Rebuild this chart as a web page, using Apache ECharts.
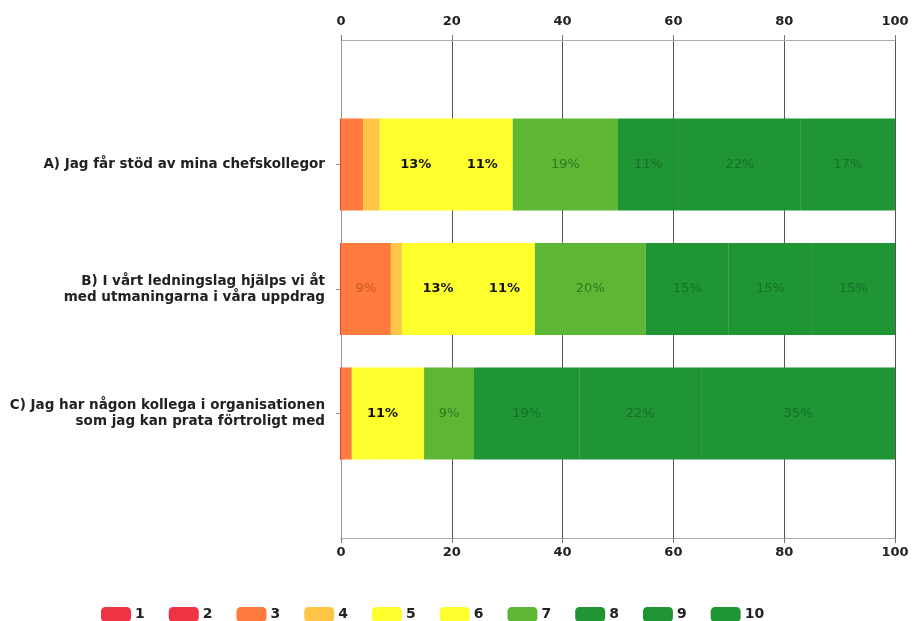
<!DOCTYPE html>
<html>
<head>
<meta charset="utf-8">
<script src="https://cdn.jsdelivr.net/npm/echarts@6/dist/echarts.min.js"></script>
<style>
  html, body { margin: 0; padding: 0; background: #fff; }
  #chart { width: 912px; height: 621px; }
</style>
</head>
<body>
<div id="chart"></div>
<script>
// frågor (tomma platser i början och slutet ger luft ovan/under staplarna)
var categories = [
    '',
    'A) Jag får stöd av mina chefskollegor',
    'B) I vårt ledningslag hjälps vi åt\nmed utmaningarna i våra uppdrag',
    'C) Jag har någon kollega i organisationen\nsom jag kan prata förtroligt med',
    ''
];
var scores = ['1', '2', '3', '4', '5', '6', '7', '8', '9', '10'];
var xTicks = [0, 20, 40, 60, 80, 100];

// andel svar (%) per betyg, för fråga A, B, C
var s1 = [0, 0, 0];
var s2 = [0, 0, 0];
var s3 = [4, 9, 2];
var s4 = [3, 2, 0];
var s5 = [13, 13, 11];
var s6 = [11, 11, 2];
var s7 = [19, 20, 9];
var s8 = [11, 15, 19];
var s9 = [22, 15, 22];
var s10 = [17, 15, 35];

var values = [s1, s2, s3, s4, s5, s6, s7, s8, s9, s10];

var colors = ['#ee3344', '#ee3344', '#ff7b3d', '#ffc546', '#ffff2e', '#ffff2e',
              '#5db735', '#1f9533', '#1f9533', '#1f9533'];
var labelColors = ['#9a1a22', '#9a1a22', '#c4561f', '#a07010', '#111', '#111',
                   '#2d7a22', '#16702a', '#16702a', '#16702a'];
var labelBold = [false, false, false, false, true, true, false, false, false, false];

var chart = echarts.init(document.getElementById('chart'));

var series = scores.map(function (name, i) {
    return {
        name: name,
        type: 'bar',
        stack: 'total',
        barWidth: 92,
        xAxisIndex: 0,
        // kant i samma färg så att inga skarvar syns mellan lika gröna delar
        itemStyle: { color: colors[i], borderColor: colors[i], borderWidth: 1.5 },
        label: {
            show: true,
            position: 'inside',
            color: labelColors[i],
            fontFamily: 'DejaVu Sans',
            fontSize: 13,
            fontWeight: labelBold[i] ? 'bold' : 'normal',
            formatter: function (p) {
                return p.value >= 5 ? p.value + '%' : '';
            }
        },
        data: [null].concat(values[i]).concat([null])
    };
});

function labelStyle(size) {
    return {
        color: '#222',
        fontFamily: 'DejaVu Sans',
        fontWeight: 'bold',
        fontSize: size
    };
}

chart.setOption({
    animation: false,
    textStyle: { fontFamily: 'DejaVu Sans' },
    grid: { left: 341, right: 17, top: 40, bottom: 83 },
    legend: {
        data: scores,
        left: 96,
        top: 602,
        icon: 'roundRect',
        itemWidth: 28,
        itemHeight: 13,
        itemGap: 24,
        textStyle: labelStyle(14)
    },
    xAxis: [{
        type: 'value',
        position: 'top',
        min: xTicks[0],
        max: xTicks[xTicks.length - 1],
        interval: 20,
        axisLine: { show: true, lineStyle: { color: '#aaa' } },
        axisTick: { show: true, length: 5, lineStyle: { color: '#777' } },
        axisLabel: Object.assign({ margin: 12 }, labelStyle(13)),
        splitLine: { show: true, lineStyle: { color: '#555' } }
    }, {
        type: 'value',
        position: 'bottom',
        min: xTicks[0],
        max: xTicks[xTicks.length - 1],
        interval: 20,
        axisLine: { show: true, lineStyle: { color: '#aaa' } },
        axisTick: { show: true, length: 5, lineStyle: { color: '#777' } },
        axisLabel: Object.assign({ margin: 8 }, labelStyle(13)),
        splitLine: { show: false }
    }],
    yAxis: {
        type: 'category',
        data: categories,
        inverse: true,
        boundaryGap: false,
        axisLine: { show: true, lineStyle: { color: '#999' } },
        axisTick: {
            show: true,
            length: 5,
            lineStyle: { color: '#999' },
            interval: function (idx, val) { return val !== ''; }
        },
        axisLabel: Object.assign({ margin: 16, align: 'right', lineHeight: 16 }, labelStyle(13.5)),
        splitLine: { show: false }
    },
    series: series
});
</script>
</body>
</html>
